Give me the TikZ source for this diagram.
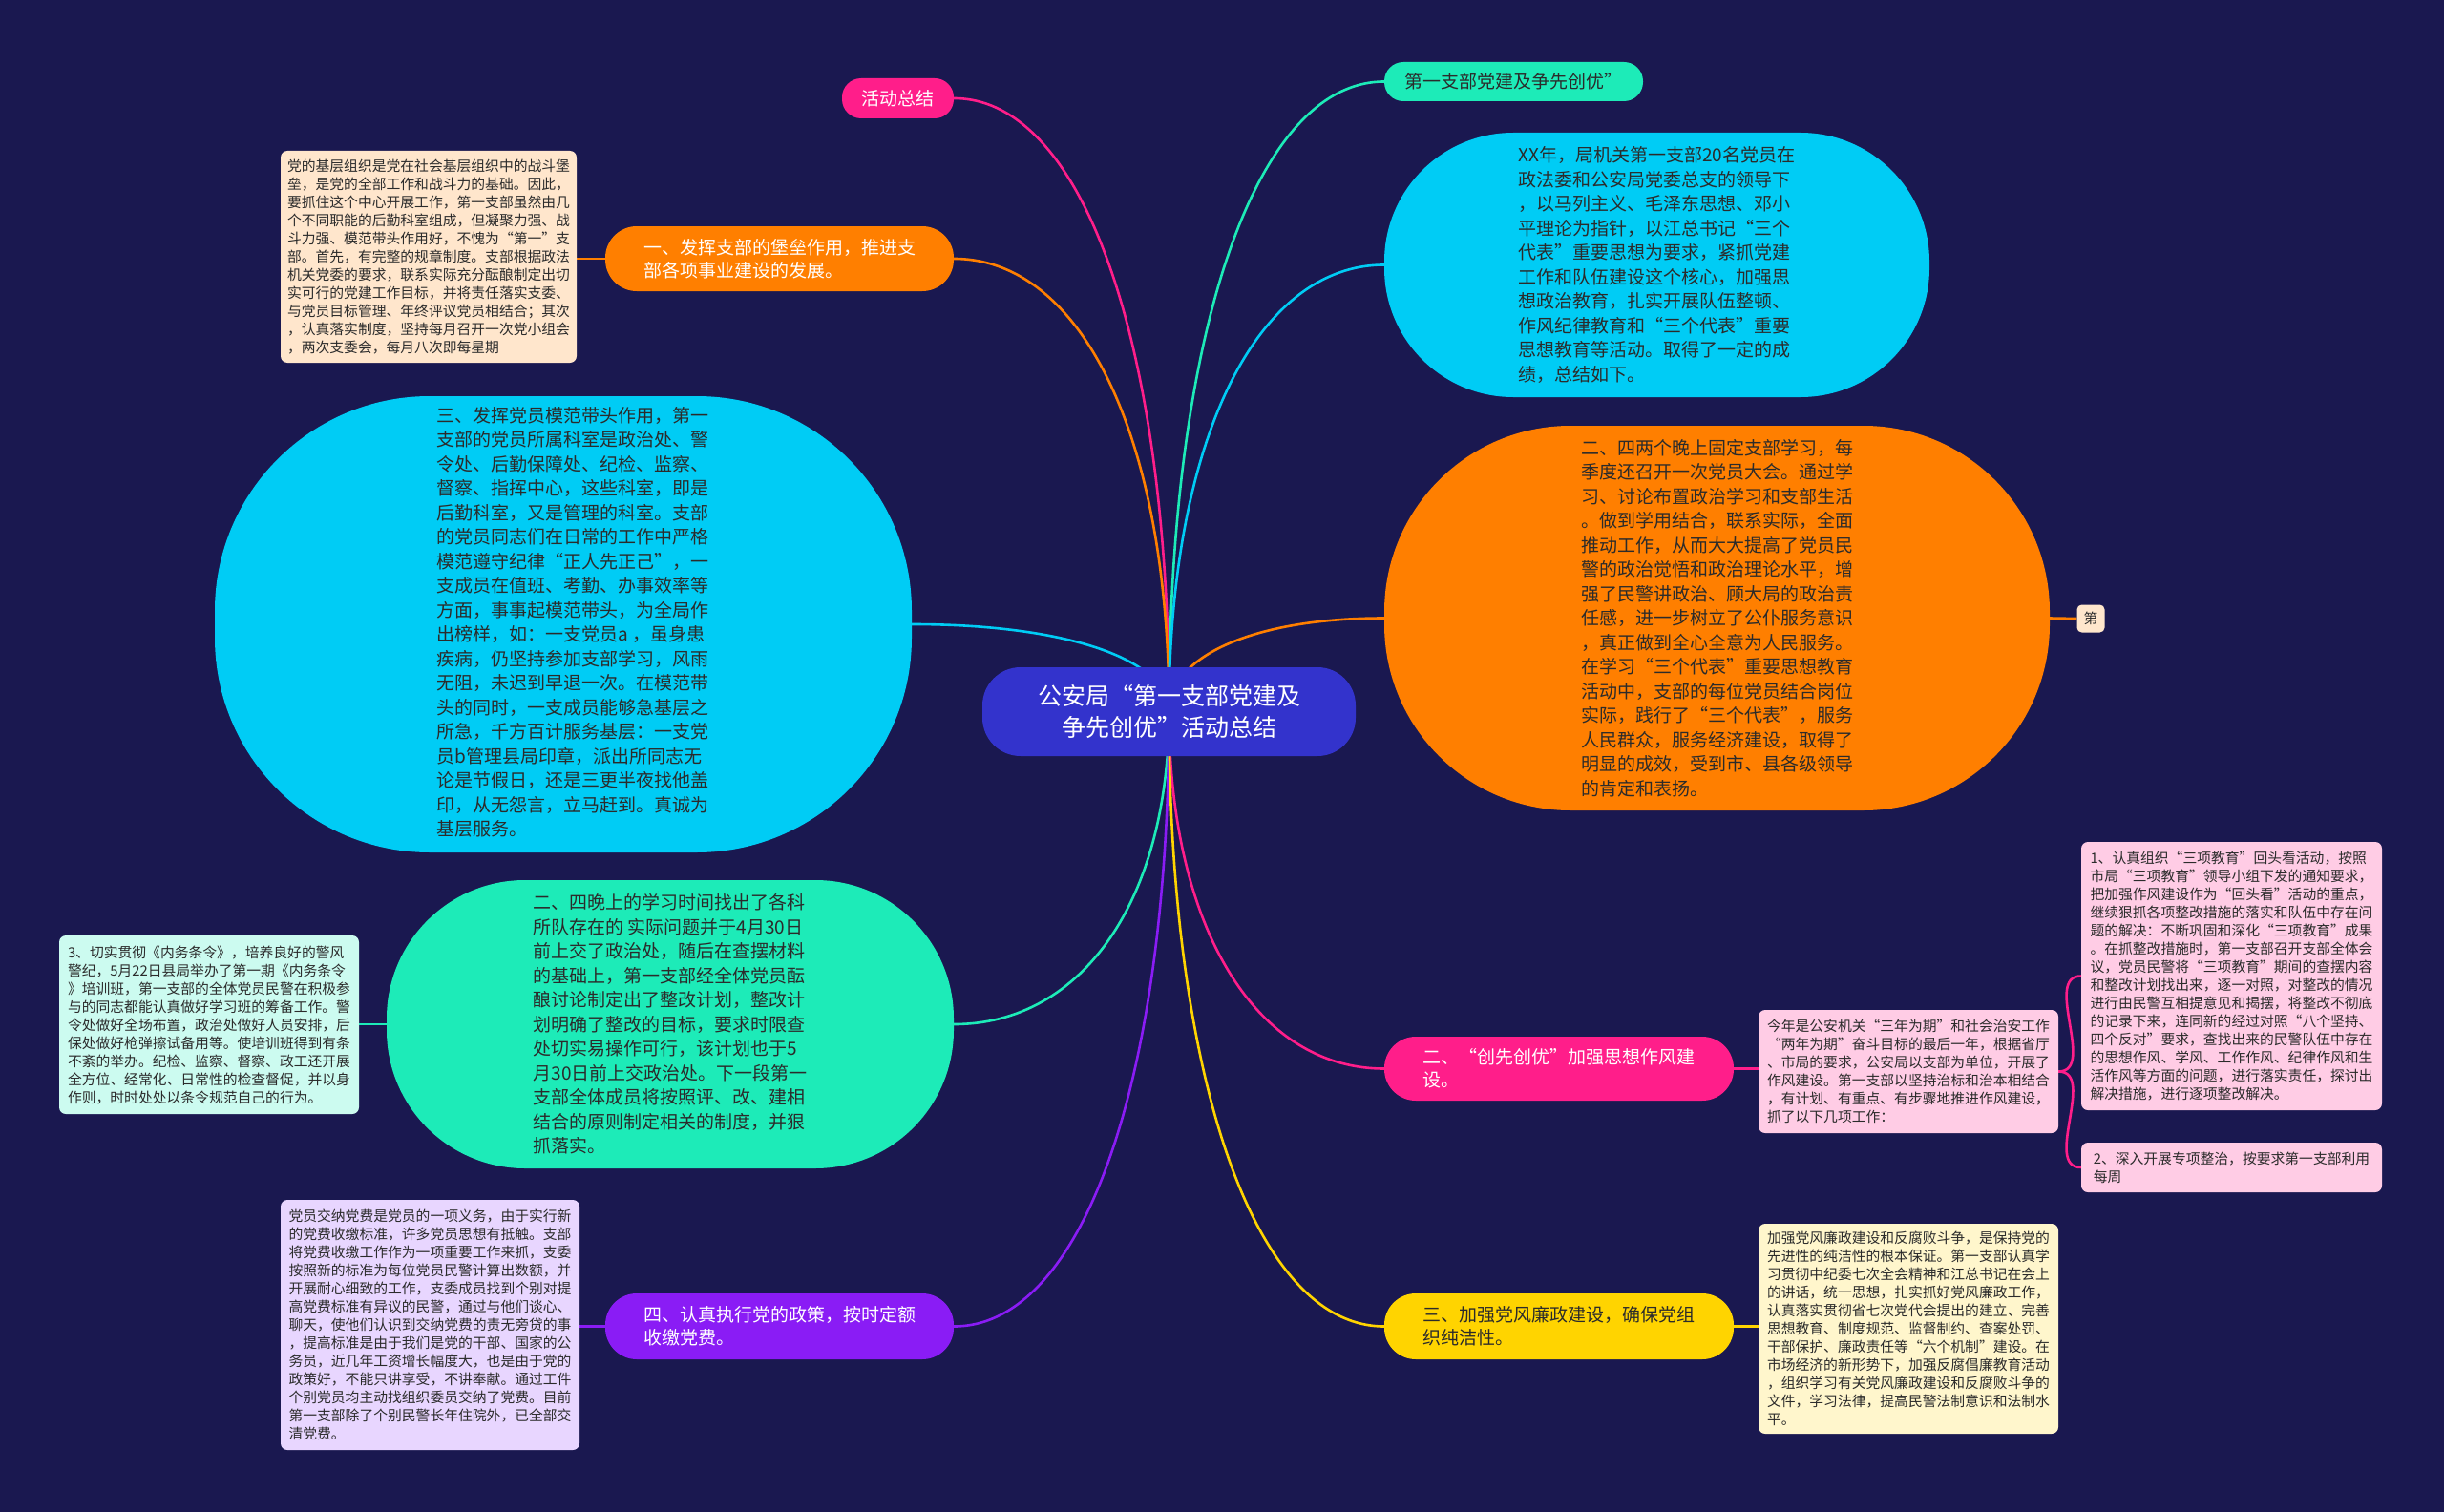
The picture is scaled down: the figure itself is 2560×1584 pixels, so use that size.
\documentclass[tikz,border=0pt]{standalone}
\usepackage{fontspec}
\setmainfont{Noto Sans CJK SC}
\usetikzlibrary{calc}
\definecolor{bgc}{HTML}{1A1850}
\definecolor{cblue}{HTML}{3333CC}
\definecolor{cpink}{HTML}{FF1E8A}
\definecolor{corange}{HTML}{FF7F00}
\definecolor{ccyan}{HTML}{00CCF5}
\definecolor{cmint}{HTML}{1DEBB8}
\definecolor{cpurple}{HTML}{8A1CF5}
\definecolor{cyellow}{HTML}{FFD400}
\definecolor{npeach}{HTML}{FFE6CC}
\definecolor{nmint}{HTML}{CCFBF0}
\definecolor{nlav}{HTML}{E8D6FF}
\definecolor{npink}{HTML}{FFCCE5}
\definecolor{nyellow}{HTML}{FFF6CC}
\definecolor{dtext}{HTML}{2B2B2B}
\pgfdeclarelayer{bg}
\pgfsetlayers{bg,main}
\tikzset{
  ctr/.style={fill=cblue, text=white, rounded corners=40pt, minimum width=391pt, minimum height=93pt, align=center, inner sep=0pt, font=\fontsize{25}{33}\selectfont},
  pillbox/.style={align=left, inner sep=0pt, font=\fontsize{19}{24}\selectfont},
  bigbox/.style={align=left, inner sep=0pt, text=dtext, font=\fontsize{19}{25.5}\selectfont},
  notebox/.style={rounded corners=7pt, align=left, inner sep=0pt, text=dtext, font=\fontsize{14.8}{19}\selectfont},
  link/.style={line width=2.6pt},
}
\newcommand\mmlink[3]{\draw[link,#1] (#2) .. controls ($(#2)!0.6!(#2 |- #3)$) and ($(#3)!0.6!(#2 |- #3)$) .. (#3);}
\begin{document}
\begin{tikzpicture}[x=1pt,y=-1pt]
\useasboundingbox (0,0) rectangle (2560,1584);
\begin{pgfonlayer}{bg}
\fill[bgc] (0,0) rectangle (2560,1584);
\end{pgfonlayer}

% center
\node[ctr] (cen) at (1224.5,745.5) {公安局“第一支部党建及\\争先创优”活动总结};
\coordinate (cc) at (1224.5,745.5);

% left side
\node[pillbox, fill=cpink, text=white, rounded corners=20pt, minimum width=117pt, minimum height=42pt] (act) at (940.5,103) {活动总结};

\node[pillbox, fill=corange, text=white, rounded corners=33pt, minimum width=365pt, minimum height=68pt] (b1) at (816.5,271) {一、发挥支部的堡垒作用，推进支\\部各项事业建设的发展。};
\node[notebox, fill=npeach, minimum width=310pt, minimum height=222pt] (nA) at (449,269) {党的基层组织是党在社会基层组织中的战斗堡\\垒，是党的全部工作和战斗力的基础。因此，\\要抓住这个中心开展工作，第一支部虽然由几\\个不同职能的后勤科室组成，但凝聚力强、战\\斗力强、模范带头作用好，不愧为“第一”支\\部。首先，有完整的规章制度。支部根据政法\\机关党委的要求，联系实际充分酝酿制定出切\\实可行的党建工作目标，并将责任落实支委、\\与党员目标管理、年终评议党员相结合；其次\\，认真落实制度，坚持每月召开一次党小组会\\，两次支委会，每月八次即每星期};

\node[bigbox, fill=ccyan, rounded corners=225pt, minimum width=730pt, minimum height=478pt] (lcy) at (590,654) {\hspace*{20pt}\begin{tabular}{@{}l@{}}三、发挥党员模范带头作用，第一\\支部的党员所属科室是政治处、警\\令处、后勤保障处、纪检、监察、\\督察、指挥中心，这些科室，即是\\后勤科室，又是管理的科室。支部\\的党员同志们在日常的工作中严格\\模范遵守纪律“正人先正己”，一\\支成员在值班、考勤、办事效率等\\方面，事事起模范带头，为全局作\\出榜样，如：一支党员a ，虽身患\\疾病，仍坚持参加支部学习，风雨\\无阻，未迟到早退一次。在模范带\\头的同时，一支成员能够急基层之\\所急，千方百计服务基层：一支党\\员b管理县局印章，派出所同志无\\论是节假日，还是三更半夜找他盖\\印，从无怨言，立马赶到。真诚为\\基层服务。\end{tabular}};

\node[bigbox, fill=cmint, rounded corners=145pt, minimum width=594pt, minimum height=302pt] (mint) at (702,1073) {二、四晚上的学习时间找出了各科\\所队存在的 实际问题并于4月30日\\前上交了政治处，随后在查摆材料\\的基础上，第一支部经全体党员酝\\酿讨论制定出了整改计划，整改计\\划明确了整改的目标，要求时限查\\处切实易操作可行，该计划也于5\\月30日前上交政治处。下一段第一\\支部全体成员将按照评、改、建相\\结合的原则制定相关的制度，并狠\\抓落实。};
\node[notebox, fill=nmint, minimum width=314pt, minimum height=187pt] (nM) at (219,1073.5) {3、切实贯彻《内务条令》，培养良好的警风\\警纪，5月22日县局举办了第一期《内务条令\\》培训班，第一支部的全体党员民警在积极参\\与的同志都能认真做好学习班的筹备工作。警\\令处做好全场布置，政治处做好人员安排，后\\保处做好枪弹擦试备用等。使培训班得到有条\\不紊的举办。纪检、监察、督察、政工还开展\\全方位、经常化、日常性的检查督促，并以身\\作则，时时处处以条令规范自己的行为。};

\node[pillbox, fill=cpurple, text=white, rounded corners=33pt, minimum width=365pt, minimum height=69pt] (pur) at (816.5,1389.5) {四、认真执行党的政策，按时定额\\收缴党费。};
\node[notebox, fill=nlav, minimum width=313pt, minimum height=262pt] (nL) at (450.5,1388) {党员交纳党费是党员的一项义务，由于实行新\\的党费收缴标准，许多党员思想有抵触。支部\\将党费收缴工作作为一项重要工作来抓，支委\\按照新的标准为每位党员民警计算出数额，并\\开展耐心细致的工作，支委成员找到个别对提\\高党费标准有异议的民警，通过与他们谈心、\\聊天，使他们认识到交纳党费的责无旁贷的事\\，提高标准是由于我们是党的干部、国家的公\\务员，近几年工资增长幅度大，也是由于党的\\政策好，不能只讲享受，不讲奉献。通过工件\\个别党员均主动找组织委员交纳了党费。目前\\第一支部除了个别民警长年住院外，已全部交\\清党费。};

% right side
\node[pillbox, fill=cmint, text=dtext, rounded corners=20pt, minimum width=271pt, minimum height=41pt] (tp) at (1585.5,85.5) {第一支部党建及争先创优”};

\node[bigbox, fill=ccyan, rounded corners=135pt, minimum width=571pt, minimum height=277pt] (rcy) at (1735.5,277.5) {XX年，局机关第一支部20名党员在\\政法委和公安局党委总支的领导下\\，以马列主义、毛泽东思想、邓小\\平理论为指针，以江总书记“三个\\代表”重要思想为要求，紧抓党建\\工作和队伍建设这个核心，加强思\\想政治教育，扎实开展队伍整顿、\\作风纪律教育和“三个代表”重要\\思想教育等活动。取得了一定的成\\绩，总结如下。};

\node[bigbox, fill=corange, rounded corners=195pt, minimum width=697pt, minimum height=403pt] (org) at (1798.5,647.5) {二、四两个晚上固定支部学习，每\\季度还召开一次党员大会。通过学\\习、讨论布置政治学习和支部生活\\。做到学用结合，联系实际，全面\\推动工作，从而大大提高了党员民\\警的政治觉悟和政治理论水平，增\\强了民警讲政治、顾大局的政治责\\任感，进一步树立了公仆服务意识\\，真正做到全心全意为人民服务。\\在学习“三个代表”重要思想教育\\活动中，支部的每位党员结合岗位\\实际，践行了“三个代表”，服务\\人民群众，服务经济建设，取得了\\明显的成效，受到市、县各级领导\\的肯定和表扬。};
\node[notebox, fill=npeach, rounded corners=5pt, minimum width=29pt, minimum height=29pt] (di) at (2190,648) {第};

\node[pillbox, fill=cpink, text=white, rounded corners=33pt, minimum width=366pt, minimum height=67pt] (pk) at (1633,1119.5) {二、“创先创优”加强思想作风建\\设。};
\node[notebox, fill=npink, minimum width=314pt, minimum height=129pt] (nP) at (1999,1122.5) {今年是公安机关“三年为期”和社会治安工作\\“两年为期”奋斗目标的最后一年，根据省厅\\、市局的要求，公安局以支部为单位，开展了\\作风建设。第一支部以坚持治标和治本相结合\\，有计划、有重点、有步骤地推进作风建设，\\抓了以下几项工作：};
\node[notebox, fill=npink, minimum width=315pt, minimum height=281pt] (nP1) at (2337.5,1022.5) {1、认真组织“三项教育”回头看活动，按照\\市局“三项教育”领导小组下发的通知要求，\\把加强作风建设作为“回头看”活动的重点，\\继续狠抓各项整改措施的落实和队伍中存在问\\题的解决：不断巩固和深化“三项教育”成果\\。在抓整改措施时，第一支部召开支部全体会\\议，党员民警将“三项教育”期间的查摆内容\\和整改计划找出来，逐一对照，对整改的情况\\进行由民警互相提意见和揭摆，将整改不彻底\\的记录下来，连同新的经过对照“八个坚持、\\四个反对”要求，查找出来的民警队伍中存在\\的思想作风、学风、工作作风、纪律作风和生\\活作风等方面的问题，进行落实责任，探讨出\\解决措施，进行逐项整改解决。};
\node[notebox, fill=npink, minimum width=315pt, minimum height=52pt] (nP2) at (2337.5,1223) {2、深入开展专项整治，按要求第一支部利用\\每周\hphantom{开展专项整治，按要求第一支部利用}};

\node[pillbox, fill=cyellow, text=dtext, rounded corners=33pt, minimum width=366pt, minimum height=69pt] (ye) at (1633,1389.5) {三、加强党风廉政建设，确保党组\\织纯洁性。};
\node[notebox, fill=nyellow, minimum width=314pt, minimum height=220pt] (nY) at (1999,1392) {加强党风廉政建设和反腐败斗争，是保持党的\\先进性的纯洁性的根本保证。第一支部认真学\\习贯彻中纪委七次全会精神和江总书记在会上\\的讲话，统一思想，扎实抓好党风廉政工作，\\认真落实贯彻省七次党代会提出的建立、完善\\思想教育、制度规范、监督制约、查案处罚、\\干部保护、廉政责任等“六个机制”建设。在\\市场经济的新形势下，加强反腐倡廉教育活动\\，组织学习有关党风廉政建设和反腐败斗争的\\文件，学习法律，提高民警法制意识和法制水\\平。};

% connectors
\begin{pgfonlayer}{bg}
\mmlink{cpink}{cc}{act.east}
\mmlink{corange}{cc}{b1.east}
\mmlink{ccyan}{cc}{lcy.east}
\mmlink{cmint}{cc}{mint.east}
\mmlink{cpurple}{cc}{pur.east}
\mmlink{cmint}{cc}{tp.west}
\mmlink{ccyan}{cc}{rcy.west}
\mmlink{corange}{cc}{org.west}
\mmlink{cpink}{cc}{pk.west}
\mmlink{cyellow}{cc}{ye.west}
\draw[link,corange] (b1.west) -- (nA.east |- b1.west);
\draw[link,cmint] (mint.west) -- (nM.east |- mint.west);
\draw[link,cpurple] (pur.west) -- (nL.east |- pur.west);
\draw[link,corange] (org.east) -- (di.west);
\draw[link,cpink] (pk.east) -- (nP.west |- pk.east);
\draw[link,cpink] (nP.east) to[out=0,in=180] (nP1.west);
\draw[link,cpink] (nP.east) to[out=0,in=180] (nP2.west);
\draw[link,cyellow] (ye.east) -- (nY.west |- ye.east);
\end{pgfonlayer}
\end{tikzpicture}
\end{document}
